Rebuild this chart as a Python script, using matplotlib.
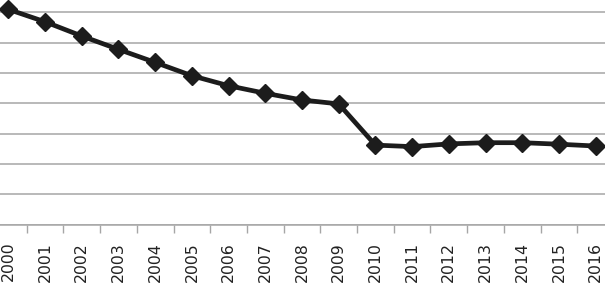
import matplotlib
matplotlib.use("Agg")
import matplotlib.pyplot as plt
import numpy as np

# Годы и значения (в делениях сетки; подписи оси Y обрезаны на исходнике)
years = [str(y) for y in range(2000, 2017)]
values = [7.10, 6.69, 6.22, 5.78, 5.35, 4.91, 4.58, 4.33, 4.11, 3.98,
          2.62, 2.57, 2.66, 2.70, 2.70, 2.65, 2.59]
y_ticks = [0, 1, 2, 3, 4, 5, 6, 7, 8]

W, H = 605, 283
fig = plt.figure(figsize=(W / 100, H / 100), dpi=100)

# Область графика выходит за края картинки (как на обрезанном оригинале)
left_px, right_px = -10.0, 614.0
bottom_px = 224.5          # пиксель оси X сверху
unit_px = 30.3
top_px = bottom_px - unit_px * 8
ax = fig.add_axes([left_px / W, (H - bottom_px) / H,
                   (right_px - left_px) / W, (bottom_px - top_px) / H])

x = np.arange(len(years))
ax.plot(x, values, color='#1c1c1c', linewidth=3.4, marker='D',
        markersize=9.5, markerfacecolor='#1c1c1c', markeredgecolor='#1c1c1c',
        zorder=3)

ax.set_xlim(-0.5, len(years) - 0.5)
ax.set_ylim(0, 8)
ax.set_yticks(y_ticks)
ax.set_yticklabels([])
ax.tick_params(axis='y', length=0)
ax.grid(True, axis='y', color='#a6a6a6', linewidth=1.1)
ax.set_axisbelow(True)

# Подписи лет по центру категорий, засечки — между категориями
ax.set_xticks(x)
ax.set_xticklabels(years, rotation=90, fontsize=11.3, color='#222222',
                   va='top', ha='center')
ax.set_xticks(np.arange(len(years) + 1) - 0.5, minor=True)
ax.tick_params(axis='x', which='major', length=0, pad=12.5)
ax.tick_params(axis='x', which='minor', length=5.5, width=1.0,
               color='#a6a6a6')

for side in ('top', 'right', 'left'):
    ax.spines[side].set_visible(False)
ax.spines['bottom'].set_color('#a6a6a6')
ax.spines['bottom'].set_linewidth(1.1)

fig.savefig('out.png', dpi=100)
